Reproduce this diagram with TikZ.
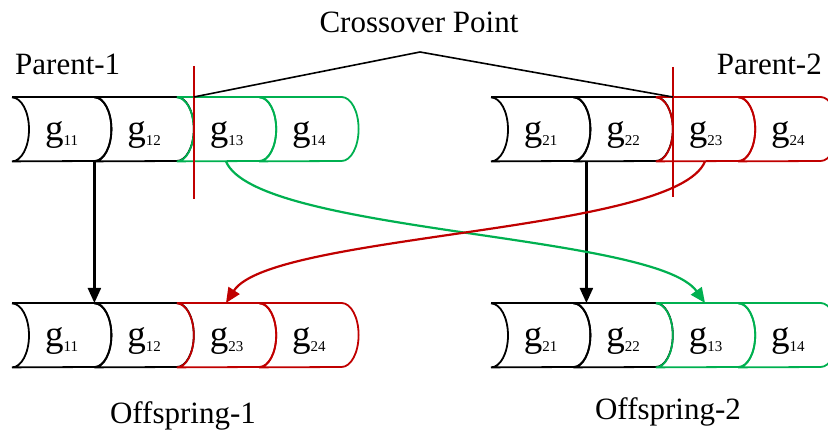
\documentclass[tikz,border=0pt]{standalone}
\usepackage{fontspec}
\setmainfont{Liberation Serif}
\usetikzlibrary{arrows.meta,positioning}
\definecolor{xgreen}{HTML}{00B050}
\definecolor{xred}{HTML}{C00000}

% gene label: big g, small index
\newcommand{\gn}[1]{\hspace*{17pt}{\fontsize{37}{37}\selectfont g}\raisebox{-5pt}{\fontsize{15}{15}\selectfont #1}}
% one gene cell: name, placement, colour, index
\newcommand{\gene}[4]{%
  \node[gene, #2] (#1) {\gn{#4}};
  \draw[cell, #3] (#1.north west) -- (#1.north east)
    arc[start angle=90, end angle=-90, x radius=17pt, y radius=32pt]
    -- (#1.south west)
    arc[start angle=-90, end angle=90, x radius=17pt, y radius=32pt];}

\begin{document}
\begin{tikzpicture}[
    x=1pt, y=1pt,
    gene/.style={minimum width=82pt, minimum height=64pt, inner sep=0pt, anchor=north west, text height=30pt, text depth=8pt},
    cell/.style={line width=1.8pt},
    cut/.style={xred, line width=1.6pt},
    move/.style={-{Triangle[length=15pt,width=13pt]}, line width=2.2pt},
    lbl/.style={font=\fontsize{31}{31}\selectfont, inner sep=0pt},
]
\useasboundingbox (0,0) rectangle (828,433);

% Parents
\gene{p1a}{at={(12,336)}}{black}{11}
\gene{p1b}{right=0pt of p1a}{black}{12}
\gene{p1c}{right=0pt of p1b}{xgreen}{13}
\gene{p1d}{right=0pt of p1c}{xgreen}{14}

\gene{p2a}{at={(491,336)}}{black}{21}
\gene{p2b}{right=0pt of p2a}{black}{22}
\gene{p2c}{right=0pt of p2b}{xred}{23}
\gene{p2d}{right=0pt of p2c}{xred}{24}

% Offspring
\gene{o1a}{at={(12,130)}}{black}{11}
\gene{o1b}{right=0pt of o1a}{black}{12}
\gene{o1c}{right=0pt of o1b}{xred}{23}
\gene{o1d}{right=0pt of o1c}{xred}{24}

\gene{o2a}{at={(491,130)}}{black}{21}
\gene{o2b}{right=0pt of o2a}{black}{22}
\gene{o2c}{right=0pt of o2b}{xgreen}{13}
\gene{o2d}{right=0pt of o2c}{xgreen}{14}

% Labels
\node[lbl, anchor=base] (cross) at (419,400) {Crossover Point};
\node[lbl, anchor=base west] (par1) at (15,358) {Parent-1};
\node[lbl, anchor=base east] (par2) at (822,358) {Parent-2};
\node[lbl, anchor=base] (off1) at (183,9) {Offspring-1};
\node[lbl, anchor=base] (off2) at (668,13) {Offspring-2};

% Crossover point
\coordinate (cut1) at ([xshift=17pt]p1c.north west);
\coordinate (cut2) at ([xshift=17pt]p2c.north west);
\coordinate (apex) at (420,381);
\draw[cut] ([yshift=31pt]cut1) -- ([yshift=-102pt]cut1);
\draw[cut] ([yshift=30pt]cut2) -- ([yshift=-100pt]cut2);
\draw[line width=1.6pt] (cut1) -- (apex) -- (cut2);

% Copy and swap
\draw[move] (p1a.south east) -- (o1a.north east);
\draw[move] ([xshift=13pt]p2a.south east) -- ([xshift=13pt]o2a.north east);
\draw[move, xgreen] ([xshift=8pt]p1c.south) .. controls +(30,-72) and +(-50,70) .. ([xshift=8pt]o2c.north);
\draw[move, xred] ([xshift=8pt]p2c.south) .. controls +(-29,-72) and +(45,70) .. ([xshift=8pt]o1c.north);

\end{tikzpicture}
\end{document}
